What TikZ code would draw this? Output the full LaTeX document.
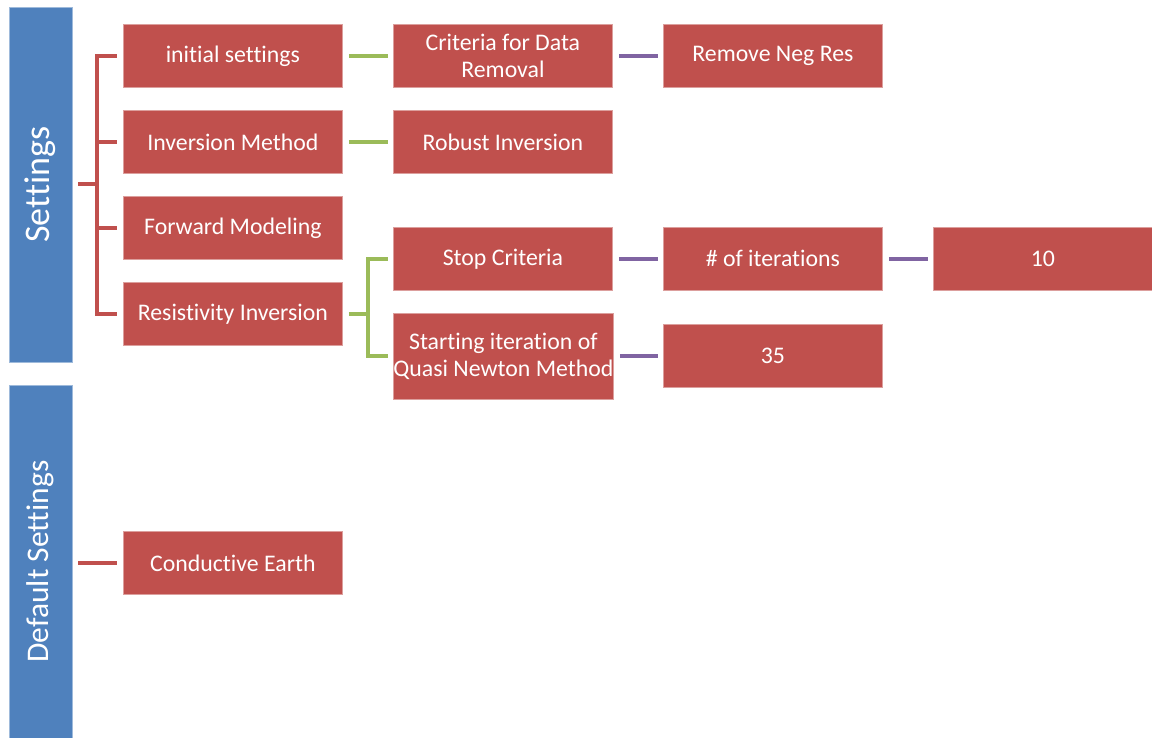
\documentclass[tikz,border=0pt]{standalone}
\usepackage{fontspec}
\setmainfont{Carlito}[Ligatures={NoCommon,NoContextual}]
\usetikzlibrary{positioning}
\definecolor{boxred}{HTML}{C0504D}
\definecolor{barblue}{HTML}{4F81BD}
\definecolor{lngreen}{HTML}{9BBB59}
\definecolor{lnpurple}{HTML}{8064A2}
\tikzset{
  item/.style={fill=boxred, draw=boxred!55!white, line width=0.8pt, text=white,
    minimum width=219pt, minimum height=63pt, inner xsep=0pt, anchor=north west,
    align=center, font=\fontsize{23.8}{27}\selectfont},
  bar/.style={fill=barblue, draw=barblue!55!white, line width=0.8pt, text=white,
    rotate=90, minimum height=63pt, inner sep=0pt},
  link/.style={line width=4pt}
}
\begin{document}
\begin{tikzpicture}[x=1pt, y=-1pt]
        \useasboundingbox (0,0) rectangle (1152,738);
        % Side bars
        \node[bar, minimum width=355pt, font=\fontsize{36}{40}\selectfont] (set) at (40.5,184.5) {Settings};
        \node[bar, minimum width=353pt, font=\fontsize{31.5}{36}\selectfont] (dft) at (40.5,561.5) {Default Settings};
        % First level
        \node[item] (init) at (123,24) {initial settings};
        \node[item] (inv) at (123,110) {Inversion Method};
        \node[item] (fwd) at (123,196) {Forward Modeling};
        \node[item] (res) at (123,282) {Resistivity Inversion};
        \node[item] (cond) at (123,531) {Conductive Earth};
        % Second level
        \node[item] (crit) at (393,24) {Criteria for Data\\Removal};
        \node[item] (rob) at (393,110) {Robust Inversion};
        \node[item] (stop) at (393,227) {Stop Criteria};
        \node[item, minimum height=86pt] (start) at (393,313) {Starting iteration of\\Quasi Newton Method};
        % Third and fourth level
        \node[item] (neg) at (663,24) {Remove Neg Res};
        \node[item] (iter) at (663,227) {\# of iterations};
        \node[item] (tf) at (663,324) {35};
        \node[item] (ten) at (933,227) {10};
        % Connectors
        \foreach \n in {init,inv,fwd,res}
          \draw[link, boxred] ([xshift=6pt]set.south) -| ([xshift=-26pt]\n.west) -- ([xshift=-6pt]\n.west);
        \draw[link, boxred] ([xshift=6pt]dft.south |- cond.west) -- ([xshift=-6pt]cond.west);
        \draw[link, lngreen] ([xshift=6pt]init.east) -- ([xshift=-5pt]crit.west);
        \draw[link, lngreen] ([xshift=6pt]inv.east) -- ([xshift=-5pt]rob.west);
        \foreach \n in {stop,start}
          \draw[link, lngreen] ([xshift=6pt]res.east) -| ([xshift=-25pt]\n.west) -- ([xshift=-5pt]\n.west);
        \draw[link, lnpurple] ([xshift=6pt]crit.east) -- ([xshift=-5pt]neg.west);
        \draw[link, lnpurple] ([xshift=6pt]stop.east) -- ([xshift=-5pt]iter.west);
        \draw[link, lnpurple] ([xshift=6pt]iter.east) -- ([xshift=-5pt]ten.west);
        \draw[link, lnpurple] ([xshift=6pt]start.east |- tf.west) -- ([xshift=-5pt]tf.west);
\end{tikzpicture}
\end{document}
